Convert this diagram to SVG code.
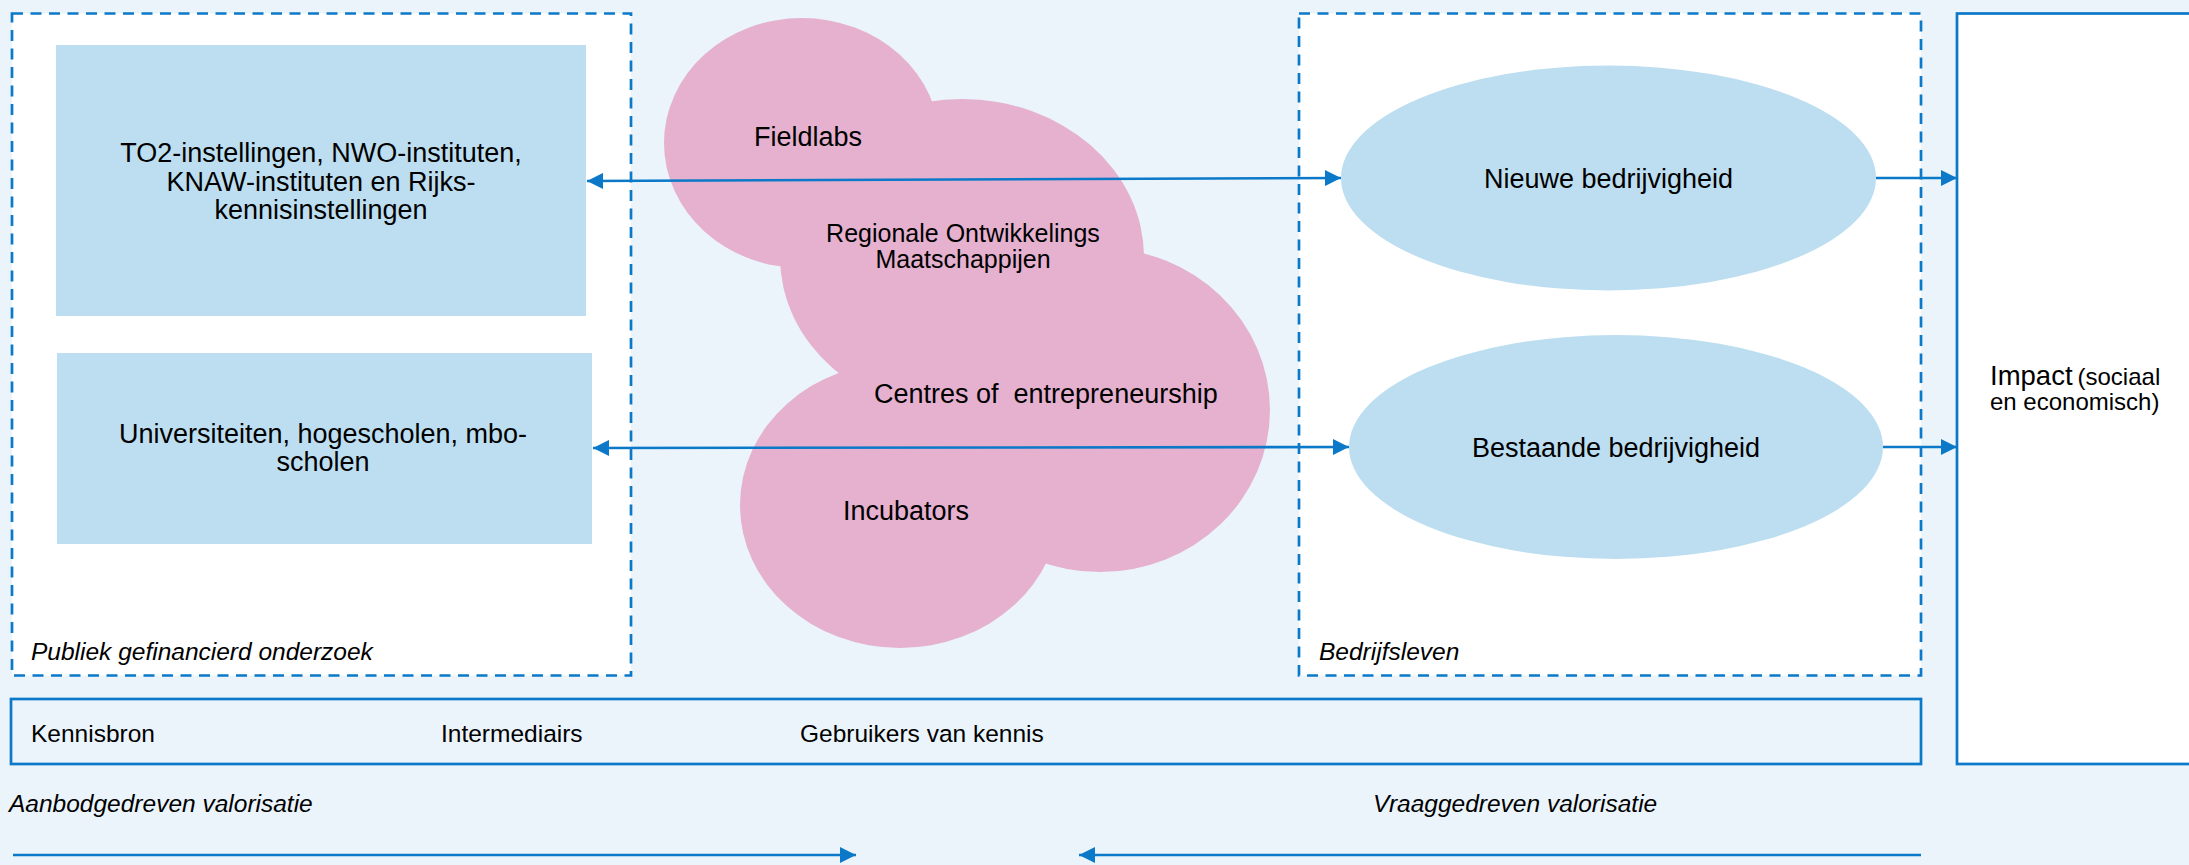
<svg xmlns="http://www.w3.org/2000/svg" width="2189" height="865" viewBox="0 0 2189 865">
<defs>
<style>
.lbl{font-family:"Liberation Sans",Arial,sans-serif;font-size:27px;fill:#000;}
.sm{font-family:"Liberation Sans",Arial,sans-serif;font-size:24.5px;fill:#000;}
.it{font-style:italic;}
.dash{fill:#fff;stroke:#0b78c8;stroke-width:2.7;stroke-dasharray:11 7.5;}
.box{fill:#bcdef0;}
.cloud{fill:#e5b1cf;}
.con{stroke:#0b78c8;stroke-width:2.6;fill:none;}
</style>
<marker id="ah" markerUnits="userSpaceOnUse" markerWidth="16" markerHeight="16" refX="16" refY="8" orient="auto-start-reverse">
<path d="M0,0 L16,8 L0,16 z" fill="#0b78c8"/>
</marker>
</defs>
<rect x="0" y="0" width="2189" height="865" fill="#ebf4fb"/>

<g id="publiek">
<rect class="dash" x="12" y="13.5" width="619" height="662"/>
<text class="sm it" x="31" y="660">Publiek gefinancierd onderzoek</text>
</g>

<g id="bedrijfsleven">
<rect class="dash" x="1299" y="13.5" width="622" height="662"/>
<text class="sm it" x="1319" y="660">Bedrijfsleven</text>
</g>

<g id="impact">
<rect x="1957" y="13.5" width="260" height="750.5" fill="#fff" stroke="#0b78c8" stroke-width="2.7"/>
<text x="1990" y="385" font-family="Liberation Sans, Arial, sans-serif" fill="#000"><tspan font-size="27.5">Impact</tspan><tspan font-size="24" dx="5">(sociaal</tspan></text>
<text class="sm" x="1990" y="410" style="font-size:24px">en economisch)</text>
</g>

<g id="to2">
<rect class="box" x="56" y="45" width="530" height="271"/>
<text class="lbl" text-anchor="middle" x="321"><tspan x="321" y="162">TO2-instellingen, NWO-instituten,</tspan><tspan x="321" y="191">KNAW-instituten en Rijks-</tspan><tspan x="321" y="219">kennisinstellingen</tspan></text>
</g>

<g id="universiteiten">
<rect class="box" x="57" y="353" width="535" height="191"/>
<text class="lbl" text-anchor="middle"><tspan x="323" y="443">Universiteiten, hogescholen, mbo-</tspan><tspan x="323" y="471">scholen</tspan></text>
</g>

<g id="intermediairs-cloud">
<ellipse class="cloud" cx="802" cy="143" rx="138" ry="125"/>
<ellipse class="cloud" cx="962" cy="257" rx="182" ry="158"/>
<ellipse class="cloud" cx="1100" cy="410" rx="170" ry="162"/>
<ellipse class="cloud" cx="900" cy="505" rx="160" ry="143"/>
<text class="lbl" x="754" y="146">Fieldlabs</text>
<text class="lbl" text-anchor="middle" style="font-size:25px"><tspan x="963" y="242">Regionale Ontwikkelings</tspan><tspan x="963" y="268">Maatschappijen</tspan></text>
<text class="lbl" x="874" y="403" xml:space="preserve">Centres of  entrepreneurship</text>
<text class="lbl" x="843" y="520">Incubators</text>
</g>

<g id="nieuwe">
<ellipse class="box" cx="1608.5" cy="178" rx="267.5" ry="112.5"/>
<text class="lbl" text-anchor="middle" x="1608.5" y="188">Nieuwe bedrijvigheid</text>
</g>

<g id="bestaande">
<ellipse class="box" cx="1616" cy="447" rx="267" ry="112"/>
<text class="lbl" text-anchor="middle" x="1616" y="457">Bestaande bedrijvigheid</text>
</g>

<g id="band">
<rect x="11" y="699" width="1910" height="65" fill="#ebf4fb" stroke="#0b78c8" stroke-width="2.7"/>
<text class="sm" x="31" y="742">Kennisbron</text>
<text class="sm" x="441" y="742">Intermediairs</text>
<text class="sm" x="800" y="742">Gebruikers van kennis</text>
</g>

<g id="valorisatie">
<text class="sm it" x="9" y="812">Aanbodgedreven valorisatie</text>
<text class="sm it" x="1373" y="812">Vraaggedreven valorisatie</text>
</g>

<g id="connectors">
<line class="con" x1="587" y1="181" x2="1341" y2="178" marker-start="url(#ah)" marker-end="url(#ah)"/>
<line class="con" x1="593" y1="448" x2="1349" y2="447" marker-start="url(#ah)" marker-end="url(#ah)"/>
<line class="con" x1="1876" y1="178" x2="1957" y2="178" marker-end="url(#ah)"/>
<line class="con" x1="1883" y1="447" x2="1957" y2="447" marker-end="url(#ah)"/>
<line class="con" x1="13" y1="855" x2="856" y2="855" stroke-width="3.4" marker-end="url(#ah)"/>
<line class="con" x1="1921" y1="855" x2="1079" y2="855" stroke-width="3.4" marker-end="url(#ah)"/>
</g>
</svg>
